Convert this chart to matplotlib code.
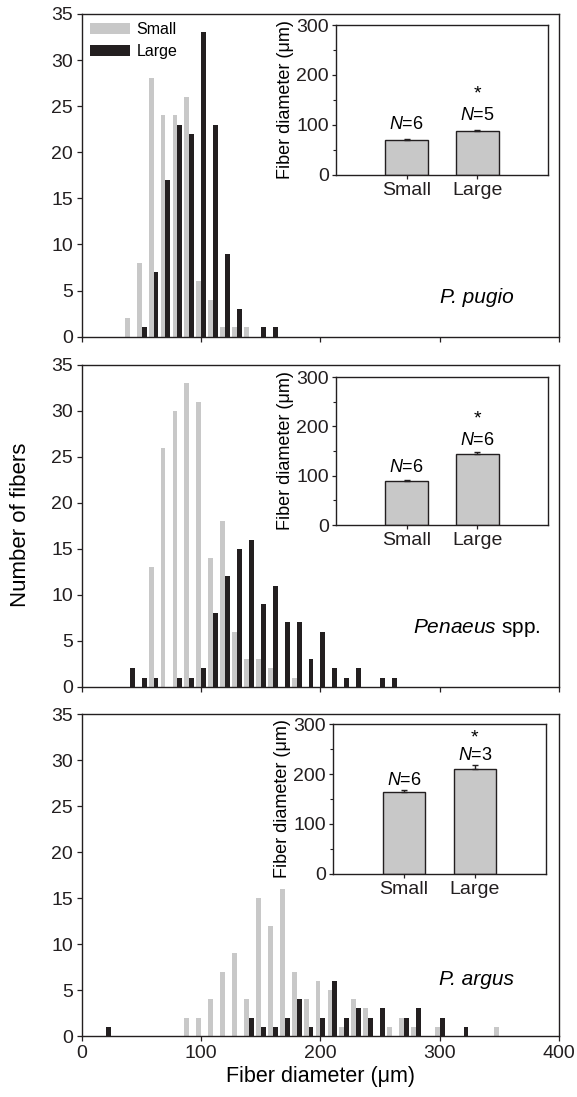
import matplotlib
matplotlib.use('Agg')
import matplotlib.pyplot as plt
from matplotlib.patches import Patch
from matplotlib.ticker import MultipleLocator

plt.rcParams['font.family'] = ['Liberation Sans', 'DejaVu Sans']
plt.rcParams['mathtext.fontset'] = 'custom'
plt.rcParams['mathtext.rm'] = 'Liberation Sans'
plt.rcParams['mathtext.it'] = 'Liberation Sans:italic'

# histogram data, bin centres (um) and counts
small_centers_1 = [40, 50, 60, 70, 80, 90, 100, 110, 120, 130, 140]
small_counts_1 = [2, 8, 28, 24, 24, 26, 6, 4, 1, 1, 1]
large_centers_1 = [50, 60, 70, 80, 90, 100, 110, 120, 130, 150, 160]
large_counts_1 = [1, 7, 17, 23, 22, 33, 23, 9, 3, 1, 1]

small_centers_2 = [60, 70, 80, 90, 100, 110, 120, 130, 140, 150, 160, 180]
small_counts_2 = [13, 26, 30, 33, 31, 14, 18, 6, 3, 3, 2, 1]
large_centers_2 = [40, 50, 60, 80, 90, 100, 110, 120, 130, 140, 150, 160, 170, 180,
                   190, 200, 210, 220, 230, 250, 260]
large_counts_2 = [2, 1, 1, 1, 1, 2, 8, 12, 15, 16, 9, 11, 7, 7, 3, 6, 2, 1, 2, 1, 1]

small_centers_3 = [90, 100, 110, 120, 130, 140, 150, 160, 170, 180, 190, 200, 210,
                   220, 230, 240, 260, 270, 280, 300, 350]
small_counts_3 = [2, 2, 4, 7, 9, 4, 15, 12, 16, 7, 4, 6, 5, 1, 4, 3, 1, 2, 1, 1, 1]
large_centers_3 = [20, 140, 150, 160, 170, 180, 190, 200, 210, 220, 230, 240, 250,
                   270, 280, 300, 320]
large_counts_3 = [1, 2, 1, 1, 2, 4, 1, 2, 6, 2, 3, 2, 3, 2, 3, 2, 1]

# inset means, errors and sample sizes
groups = ['Small', 'Large']
mean_1 = [69, 87]
err_1 = [3, 3]
n_1 = [6, 5]
mean_2 = [89, 143]
err_2 = [3, 5]
n_2 = [6, 6]
mean_3 = [164, 211]
err_3 = [4, 8]
n_3 = [6, 3]

species = ['P. pugio', r'$Penaeus$ spp.', 'P. argus']
species_style = ['italic', 'normal', 'italic']

GRAY = '#c8c8c8'
DARK = '#231f20'

fig = plt.figure(figsize=(5.77, 10.97), dpi=100)

main_pos = [[0.1421, 0.6931, 0.8267, 0.2942],
            [0.1421, 0.3740, 0.8267, 0.2933],
            [0.1421, 0.0556, 0.8267, 0.2935]]
inset_pos = [[0.5823, 0.8405, 0.3674, 0.1367],
             [0.5823, 0.5214, 0.3674, 0.1349],
             [0.5771, 0.2033, 0.3691, 0.1367]]
species_y = [4.3, 6.4, 6.1]
n_off = [4, 2.5, 0.5]
star_off = [20, 18, 13]

hist_data = [(small_centers_1, small_counts_1, large_centers_1, large_counts_1),
             (small_centers_2, small_counts_2, large_centers_2, large_counts_2),
             (small_centers_3, small_counts_3, large_centers_3, large_counts_3)]
inset_data = [(mean_1, err_1, n_1), (mean_2, err_2, n_2), (mean_3, err_3, n_3)]

tick_fs = 14
w = 4.1

for i in range(3):
    ax = fig.add_axes(main_pos[i])
    sc, sn, lc, ln = hist_data[i]
    ax.bar([c - w for c in sc], sn, width=w, align='edge', color=GRAY, linewidth=0)
    ax.bar(lc, ln, width=w, align='edge', color=DARK, linewidth=0)
    ax.set_xlim(0, 400)
    ax.set_ylim(0, 35)
    ax.set_xticks([0, 100, 200, 300, 400])
    ax.set_yticks(range(0, 36, 5))
    ax.tick_params(direction='out', length=3.5, width=0.9, colors=DARK,
                   labelsize=tick_fs, pad=3)
    for s in ax.spines.values():
        s.set_color(DARK)
        s.set_linewidth(1.0)
    if i < 2:
        ax.set_xticklabels([])
    else:
        ax.set_xlabel('Fiber diameter (μm)', fontsize=15.5, labelpad=3)
    if i == 0:
        handles = [Patch(facecolor=GRAY, edgecolor='none', label='Small'),
                   Patch(facecolor=DARK, edgecolor='none', label='Large')]
        ax.legend(handles=handles, loc='upper left', frameon=False, fontsize=11.5,
                  handlelength=2.5, handleheight=0.65, handletextpad=0.4,
                  labelspacing=0.45, borderaxespad=0.3, borderpad=0.2)
    ax.text(331, species_y[i], species[i], fontsize=15, style=species_style[i],
            ha='center', va='center')

    # inset bar chart of mean diameter
    ins = fig.add_axes(inset_pos[i])
    m, e, n = inset_data[i]
    ins.bar([0, 1], m, width=0.6, color=GRAY, edgecolor=DARK, linewidth=1.0,
            yerr=[[0, 0], e], error_kw=dict(ecolor=DARK, elinewidth=1.0, capsize=2.5))
    ins.set_xlim(-1, 2)
    ins.set_ylim(0, 300)
    ins.set_xticks([0, 1])
    ins.set_xticklabels(groups)
    ins.set_yticks([0, 100, 200, 300])
    ins.yaxis.set_minor_locator(MultipleLocator(50))
    ins.tick_params(direction='out', length=3, width=0.9, colors=DARK,
                    labelsize=tick_fs, pad=2)
    ins.tick_params(which='minor', direction='out', length=2, width=0.8, colors=DARK)
    ins.set_ylabel('Fiber diameter (μm)', fontsize=13, labelpad=2)
    for s in ins.spines.values():
        s.set_color(DARK)
        s.set_linewidth(1.0)
    for j in range(2):
        ins.annotate(r'$N$=%d' % n[j], (j, m[j] + e[j]), xytext=(0, n_off[i]),
                     textcoords='offset points', ha='center', va='bottom', fontsize=13)
    ins.annotate('*', (1, m[1] + e[1]), xytext=(0, star_off[i]), textcoords='offset points',
                 ha='center', va='bottom', fontsize=14)

fig.text(0.036, 0.5214, 'Number of fibers', rotation=90, ha='center', va='center',
         fontsize=16)

fig.savefig('out.png', dpi=100)
